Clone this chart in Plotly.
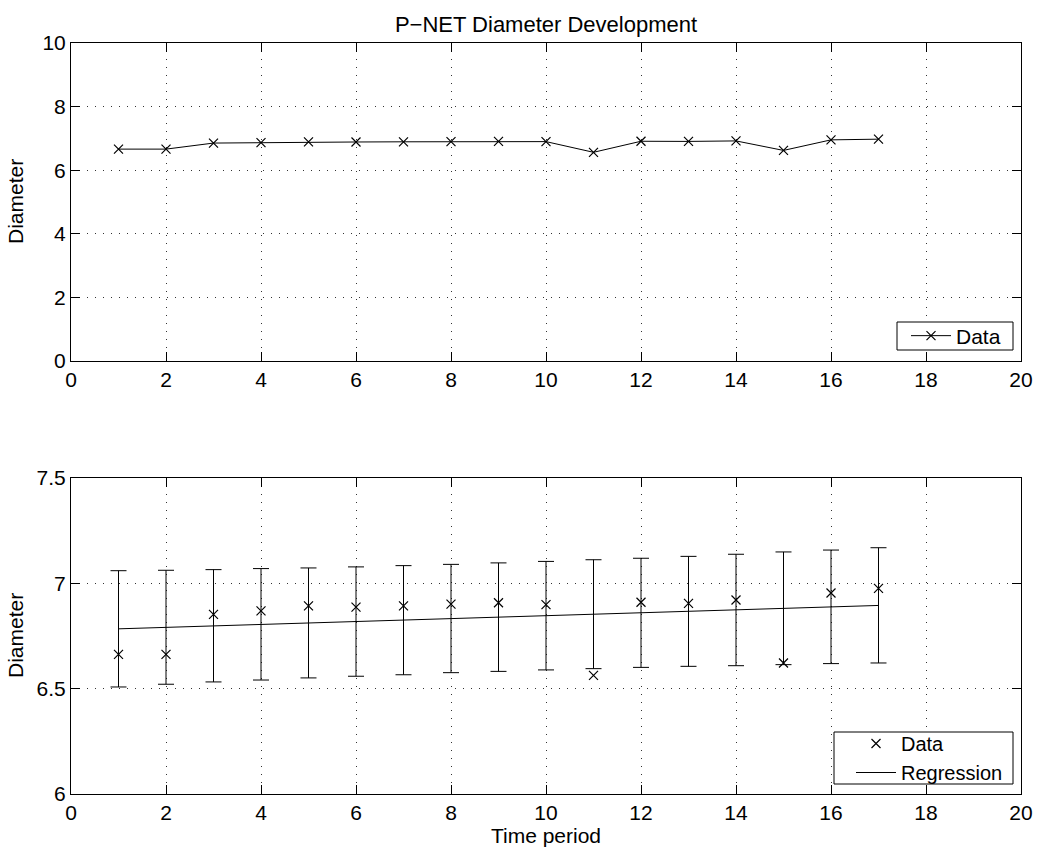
import plotly.graph_objects as go

# ---- data ----
time_period = list(range(1, 18))
diameter = [6.663, 6.663, 6.853, 6.869, 6.893, 6.887, 6.893, 6.901, 6.908,
            6.899, 6.563, 6.910, 6.905, 6.921, 6.622, 6.954, 6.976]
regression = [6.784, 6.791, 6.798, 6.805, 6.812, 6.819, 6.826, 6.833, 6.840,
              6.847, 6.853, 6.860, 6.867, 6.874, 6.881, 6.888, 6.895]
upper = [7.060, 7.062, 7.065, 7.070, 7.073, 7.078, 7.084, 7.090, 7.097,
         7.104, 7.112, 7.119, 7.128, 7.138, 7.149, 7.158, 7.169]
lower = [6.508, 6.521, 6.532, 6.541, 6.551, 6.559, 6.566, 6.576, 6.582,
         6.589, 6.595, 6.601, 6.606, 6.609, 6.614, 6.619, 6.622]

x_ticks = list(range(0, 21, 2))
top_y_ticks = list(range(0, 11, 2))
bottom_y_ticks = [6, 6.5, 7, 7.5]

W, H = 1042, 855
FONT = "Liberation Sans, Arial, Helvetica, sans-serif"
FS = 21

fig = go.Figure()

# top panel: data line with x markers
fig.add_trace(go.Scatter(
    x=time_period, y=diameter, mode="lines+markers", name="Data",
    line=dict(color="black", width=1),
    marker=dict(symbol="x-thin", size=9, line=dict(color="black", width=1.2)),
    xaxis="x", yaxis="y", legend="legend"))

# bottom panel: error bars around regression
err_plus = [u - r for u, r in zip(upper, regression)]
err_minus = [r - l for r, l in zip(regression, lower)]
fig.add_trace(go.Scatter(
    x=time_period, y=regression, mode="markers", showlegend=False,
    marker=dict(size=1, color="rgba(0,0,0,0)"),
    error_y=dict(type="data", symmetric=False, array=err_plus,
                 arrayminus=err_minus, color="black", thickness=1, width=8),
    xaxis="x2", yaxis="y2", hoverinfo="skip"))

fig.add_trace(go.Scatter(
    x=time_period, y=diameter, mode="markers", name="Data",
    marker=dict(symbol="x-thin", size=9, line=dict(color="black", width=1.2)),
    xaxis="x2", yaxis="y2", legend="legend2"))

fig.add_trace(go.Scatter(
    x=time_period, y=regression, mode="lines", name="Regression",
    line=dict(color="black", width=1),
    xaxis="x2", yaxis="y2", legend="legend2"))

xdom = [71 / W, 1021 / W]
top_dom = [1 - 361 / H, 1 - 43 / H]
bot_dom = [1 - 794 / H, 1 - 478 / H]

axis_common = dict(
    showline=True, linecolor="black", linewidth=1, mirror="allticks",
    ticks="inside", ticklen=9, tickcolor="black", tickwidth=1,
    showgrid=True, gridcolor="#333333", gridwidth=1, griddash="1px,7px",
    zeroline=False, automargin=False,
    tickfont=dict(family=FONT, size=FS, color="black"),
)


def px_box(x0, y0, x1, y1):
    return dict(type="rect", xref="paper", yref="paper",
                x0=x0 / W, x1=x1 / W, y0=1 - y1 / H, y1=1 - y0 / H,
                line=dict(color="black", width=1), fillcolor="white",
                layer="above")


fig.update_layout(
    width=W, height=H,
    margin=dict(l=0, r=0, t=0, b=0, pad=0),
    paper_bgcolor="white", plot_bgcolor="white",
    font=dict(family=FONT, size=FS, color="black"),
    title=dict(text="P\u2212NET Diameter Development", x=546 / W, xanchor="center",
               y=1 - 24 / H, yanchor="middle",
               font=dict(family=FONT, size=22, color="black")),
    xaxis=dict(domain=xdom, range=[0, 20], tickvals=x_ticks, anchor="y",
               **axis_common),
    yaxis=dict(domain=top_dom, range=[0, 10], tickvals=top_y_ticks, anchor="x",
               **axis_common),
    xaxis2=dict(domain=xdom, range=[0, 20], tickvals=x_ticks, anchor="y2",
                title=dict(text="Time period", standoff=2,
                           font=dict(family=FONT, size=FS)),
                **axis_common),
    yaxis2=dict(domain=bot_dom, range=[6, 7.5], tickvals=bottom_y_ticks,
                anchor="x2", **axis_common),
    legend=dict(x=1006 / W, y=1 - 336 / H, xanchor="right", yanchor="middle",
                bgcolor="rgba(0,0,0,0)", borderwidth=0,
                font=dict(family=FONT, size=FS), tracegroupgap=0,
                itemwidth=40),
    legend2=dict(x=1008 / W, y=1 - 758 / H, xanchor="right", yanchor="middle",
                 bgcolor="rgba(0,0,0,0)", borderwidth=0,
                 font=dict(family=FONT, size=FS - 1), tracegroupgap=0,
                 itemwidth=40),
    shapes=[px_box(897, 322, 1013, 350), px_box(834, 732, 1013, 784)],
    annotations=[
        dict(text="Diameter", x=15 / W, y=1 - 202 / H, xref="paper", yref="paper",
             textangle=-90, showarrow=False, xanchor="center", yanchor="middle",
             font=dict(family=FONT, size=FS, color="black")),
        dict(text="Diameter", x=15 / W, y=1 - 636 / H, xref="paper", yref="paper",
             textangle=-90, showarrow=False, xanchor="center", yanchor="middle",
             font=dict(family=FONT, size=FS, color="black")),
    ],
)

fig.write_html("out.html")
